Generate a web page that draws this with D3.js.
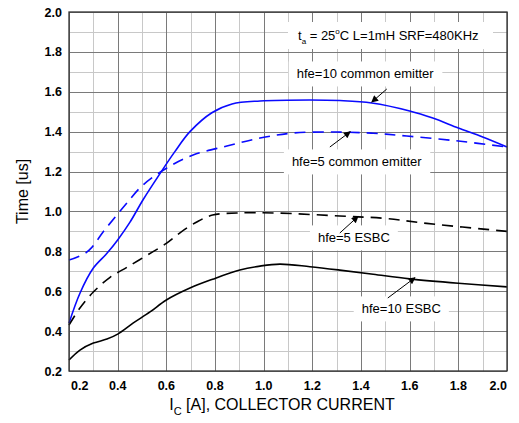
<!DOCTYPE html>
<html>
<head>
<meta charset="utf-8">
<script src="https://cdn.jsdelivr.net/npm/d3@7"></script>
<style>
  html, body { margin: 0; padding: 0; background: #fff; }
  svg { display: block; font-family: Arial, "Liberation Sans", sans-serif; }
</style>
</head>
<body>
<div id="chart"></div>
<script>
// current values [A] and times [us]
var ce10X = [0.2, 0.245, 0.3, 0.356, 0.4, 0.45, 0.505, 0.574, 0.635, 0.697, 0.787, 0.87, 0.985, 1.19, 1.313, 1.444, 1.6, 1.695, 1.8, 1.9, 2.0];
var ce10Y = [0.44, 0.59, 0.716, 0.79, 0.857, 0.945, 1.06, 1.19, 1.30, 1.40, 1.495, 1.539, 1.554, 1.559, 1.556, 1.544, 1.504, 1.468, 1.418, 1.373, 1.323];

var ce5X = [0.2, 0.266, 0.294, 0.34, 0.39, 0.438, 0.5, 0.602, 0.71, 0.849, 0.985, 1.12, 1.30, 1.45, 1.588, 1.8, 2.0];
var ce5Y = [0.756, 0.79, 0.82, 0.897, 0.972, 1.042, 1.128, 1.218, 1.283, 1.328, 1.368, 1.393, 1.398, 1.392, 1.378, 1.353, 1.323];

var esbc5X = [0.2, 0.245, 0.3, 0.37, 0.438, 0.52, 0.6, 0.656, 0.725, 0.79, 0.89, 1.054, 1.313, 1.5, 1.67, 2.0];
var esbc5Y = [0.43, 0.516, 0.596, 0.671, 0.72, 0.78, 0.84, 0.893, 0.947, 0.982, 0.992, 0.992, 0.977, 0.965, 0.94, 0.90];

var esbc10X = [0.2, 0.245, 0.3, 0.356, 0.4, 0.463, 0.533, 0.6, 0.697, 0.79, 0.902, 0.985, 1.067, 1.19, 1.313, 1.45, 1.6, 1.8, 2.0];
var esbc10Y = [0.255, 0.305, 0.34, 0.36, 0.385, 0.44, 0.496, 0.556, 0.616, 0.66, 0.706, 0.726, 0.736, 0.723, 0.706, 0.685, 0.662, 0.64, 0.622];

var xTicks = [0.2, 0.4, 0.6, 0.8, 1.0, 1.2, 1.4, 1.6, 1.8, 2.0];
var yTicks = [0.2, 0.4, 0.6, 0.8, 1.0, 1.2, 1.4, 1.6, 1.8, 2.0];

var series = [
  { xs: ce10X, ys: ce10Y, color: '#0a0aff', dash: null },
  { xs: ce5X, ys: ce5Y, color: '#0a0aff', dash: '11,7' },
  { xs: esbc5X, ys: esbc5Y, color: '#000', dash: '11,7' },
  { xs: esbc10X, ys: esbc10Y, color: '#000', dash: null }
];

// label text, left anchor point (data units), arrow tail/head (data units)
var notes = [
  { text: 'hfe=10 common emitter', x: 1.136, y: 1.684, tail: [1.506, 1.614], head: [1.444, 1.548] },
  { text: 'hfe=5 common emitter', x: 1.116, y: 1.243, tail: [1.272, 1.323], head: [1.356, 1.40] },
  { text: 'hfe=5 ESBC', x: 1.223, y: 0.862, tail: [1.313, 0.892], head: [1.388, 0.975] },
  { text: 'hfe=10 ESBC', x: 1.403, y: 0.506, tail: [1.51, 0.566], head: [1.622, 0.668] }
];

var width = 519, height = 423;
var margin = { top: 12, right: 12, bottom: 52, left: 69 };

var svg = d3.select('#chart').append('svg')
  .attr('width', width)
  .attr('height', height);

var defs = svg.append('defs');
defs.append('marker')
  .attr('id', 'arrow')
  .attr('viewBox', '0 0 10 10')
  .attr('refX', 9)
  .attr('refY', 5)
  .attr('markerWidth', 9)
  .attr('markerHeight', 7)
  .attr('markerUnits', 'userSpaceOnUse')
  .attr('orient', 'auto')
  .append('path')
  .attr('d', 'M0,0 L10,5 L0,10 Z')
  .attr('fill', '#000');

var x = d3.scaleLinear().domain([0.2, 2.0]).range([margin.left, width - margin.right]);
var y = d3.scaleLinear().domain([0.2, 2.0]).range([height - margin.bottom, margin.top]);

var minorX = d3.range(0.3, 2.0, 0.2);
var minorY = d3.range(0.3, 2.0, 0.2);

var grid = svg.append('g');
grid.selectAll('.vmin').data(minorX).enter().append('line')
  .attr('x1', function (d) { return Math.round(x(d)) + 0.5; })
  .attr('x2', function (d) { return Math.round(x(d)) + 0.5; })
  .attr('y1', y(0.2)).attr('y2', y(2.0))
  .attr('stroke', '#c8c8c8').attr('stroke-width', 1);
grid.selectAll('.hmin').data(minorY).enter().append('line')
  .attr('y1', function (d) { return Math.round(y(d)) + 0.5; })
  .attr('y2', function (d) { return Math.round(y(d)) + 0.5; })
  .attr('x1', x(0.2)).attr('x2', x(2.0))
  .attr('stroke', '#c8c8c8').attr('stroke-width', 1);
grid.selectAll('.vmaj').data(xTicks).enter().append('line')
  .attr('x1', function (d) { return Math.round(x(d)) + 0.5; })
  .attr('x2', function (d) { return Math.round(x(d)) + 0.5; })
  .attr('y1', y(0.2)).attr('y2', y(2.0))
  .attr('stroke', '#7a7a7a').attr('stroke-width', 1);
grid.selectAll('.hmaj').data(yTicks).enter().append('line')
  .attr('y1', function (d) { return Math.round(y(d)) + 0.5; })
  .attr('y2', function (d) { return Math.round(y(d)) + 0.5; })
  .attr('x1', x(0.2)).attr('x2', x(2.0))
  .attr('stroke', '#7a7a7a').attr('stroke-width', 1);

// white boxes behind the annotations
var boxes = svg.append('g');
boxes.append('rect')
  .attr('x', 288).attr('y', 22).attr('width', 205).attr('height', 27)
  .attr('fill', '#fff');

var topNote = svg.append('text')
  .attr('x', 298).attr('y', 40)
  .attr('font-size', 13)
  .attr('fill', '#000');
topNote.append('tspan').text('t');
topNote.append('tspan').attr('font-size', 8).attr('dy', 4).text('a');
topNote.append('tspan').attr('dy', -4).text(' = 25');
topNote.append('tspan').attr('font-size', 8).attr('dy', -6).text('o');
topNote.append('tspan').attr('dy', 6).text('C L=1mH SRF=480KHz');

var noteG = svg.append('g');
notes.forEach(function (n) {
  var t = noteG.append('text')
    .attr('x', x(n.x)).attr('y', y(n.y))
    .attr('font-size', 13)
    .attr('dominant-baseline', 'middle')
    .text(n.text);
  var bb = t.node().getBBox();
  boxes.append('rect')
    .attr('x', bb.x - 8).attr('y', bb.y - 5)
    .attr('width', bb.width + 16).attr('height', bb.height + 10)
    .attr('fill', '#fff');
});

var line = d3.line()
  .x(function (d) { return x(d[0]); })
  .y(function (d) { return y(d[1]); })
  .curve(d3.curveCatmullRom.alpha(0.5));

svg.append('g').selectAll('path').data(series).enter().append('path')
  .attr('d', function (s) { return line(d3.zip(s.xs, s.ys)); })
  .attr('fill', 'none')
  .attr('stroke', function (s) { return s.color; })
  .attr('stroke-width', 1.6)
  .attr('stroke-dasharray', function (s) { return s.dash; });

svg.append('g').selectAll('line').data(notes).enter().append('line')
  .attr('x1', function (n) { return x(n.tail[0]); })
  .attr('y1', function (n) { return y(n.tail[1]); })
  .attr('x2', function (n) { return x(n.head[0]); })
  .attr('y2', function (n) { return y(n.head[1]); })
  .attr('stroke', '#000')
  .attr('stroke-width', 1)
  .attr('marker-end', 'url(#arrow)');

// frame
svg.append('rect')
  .attr('x', x(0.2)).attr('y', y(2.0))
  .attr('width', x(2.0) - x(0.2)).attr('height', y(0.2) - y(2.0))
  .attr('fill', 'none')
  .attr('stroke', '#333')
  .attr('stroke-width', 1.3);

// tick labels
svg.append('g').selectAll('text').data(xTicks).enter().append('text')
  .attr('x', function (d, i) { return i === 0 ? x(d) + 2 : x(d); })
  .attr('y', 390)
  .attr('font-size', 12.5)
  .attr('font-weight', 'bold')
  .attr('text-anchor', function (d, i) { return i === 0 ? 'start' : (i === xTicks.length - 1 ? 'end' : 'middle'); })
  .text(function (d) { return d3.format('.1f')(d); });

svg.append('g').selectAll('text').data(yTicks).enter().append('text')
  .attr('x', 62)
  .attr('y', function (d) { return y(d); })
  .attr('dy', '0.36em')
  .attr('font-size', 12.5)
  .attr('font-weight', 'bold')
  .attr('text-anchor', 'end')
  .text(function (d) { return d3.format('.1f')(d); });

// axis titles
svg.append('text')
  .attr('transform', 'translate(28,' + ((y(0.2) + y(2.0)) / 2) + ') rotate(-90)')
  .attr('text-anchor', 'middle')
  .attr('font-size', 16)
  .text('Time [us]');

var xt = svg.append('text')
  .attr('x', 282).attr('y', 410)
  .attr('text-anchor', 'middle')
  .attr('font-size', 16);
xt.append('tspan').text('I');
xt.append('tspan').attr('font-size', 11).attr('dy', 5).text('C');
xt.append('tspan').attr('dy', -5).text(' [A], COLLECTOR CURRENT');
</script>
</body>
</html>
